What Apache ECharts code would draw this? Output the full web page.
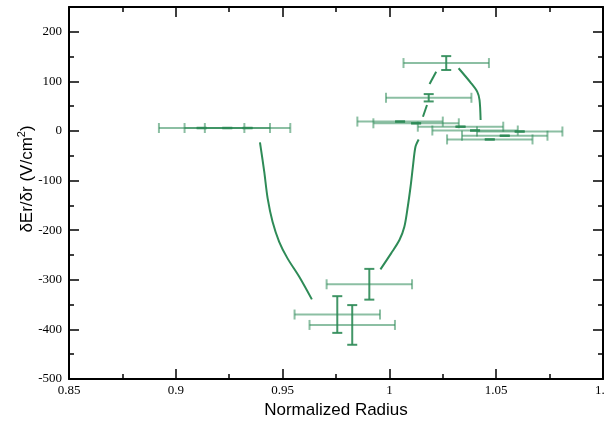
<!DOCTYPE html>
<html>
<head>
<meta charset="utf-8">
<script src="https://cdn.jsdelivr.net/npm/echarts@6/dist/echarts.min.js"></script>
<style>
  html, body { margin: 0; padding: 0; background: #fff; }
  #chart { width: 604px; height: 423px; }
</style>
</head>
<body>
<div id="chart"></div>
<script>
// Measured points with error bars (normalized radius, field gradient)
const pointR    = [0.9121, 0.9241, 0.9336, 0.9906, 0.9756, 0.9826, 1.0050, 1.0125, 1.0184, 1.0266, 1.0333, 1.0401, 1.0470, 1.0540, 1.0610];
const pointDE   = [6, 6, 6, -309, -370, -391, 19, 15.5, 67, 137, 8.7, 1, -17, -9.5, -1];
const pointRErr = [0.02, 0.02, 0.02, 0.02, 0.02, 0.02, 0.02, 0.02, 0.02, 0.02, 0.02, 0.02, 0.02, 0.02, 0.02];
const pointDEErr = [0.5, 0.5, 0.5, 31, 37, 40, 0.5, 0.5, 7.4, 14, 0.5, 0.5, 0.5, 0.5, 0.5];

// Model curves
const leftCurve = [
  [0.9394, -22.8], [0.9414, -82.1], [0.9430, -135.8], [0.9453, -183],
  [0.9484, -223.3], [0.9523, -256.8], [0.9578, -294], [0.9637, -339.5]
];
const rightCurveSolid = [
  [0.9958, -279], [1.0008, -246.7], [1.0047, -219.9], [1.0070, -193.1],
  [1.0086, -152.7], [1.0099, -112.4], [1.0110, -72], [1.0122, -31.7], [1.0137, -17]
];
const rightCurvePiece1 = [[1.0157, 28.8], [1.0176, 52.5]];
const rightCurvePiece2 = [[1.0188, 94.8], [1.0219, 119.6]];
const outerCurve = [[1.0324, 126.5], [1.0383, 96.2], [1.0411, 79.3], [1.0422, 62.5], [1.0427, 22.2]];

// Axis settings
const xMin = 0.85, xMax = 1.1, xStep = 0.05;
const yMin = -500, yMax = 250, yStep = 100;

const GREEN = '#2e8b57';
const serif = 'Liberation Serif';
const sans = 'Liberation Sans';

const errData = pointR.map((r, i) => [r, pointDE[i], pointRErr[i], pointDEErr[i]]);

function renderErrorBar(params, api) {
  const x = api.value(0), y = api.value(1), ex = api.value(2), ey = api.value(3);
  const l = api.coord([x - ex, y]);
  const r = api.coord([x + ex, y]);
  const t = api.coord([x, y + ey]);
  const b = api.coord([x, y - ey]);
  const capH = 5, capV = 5;
  const hStyle = { stroke: 'rgba(46,139,87,0.55)', lineWidth: 2 };
  const vStyle = { stroke: 'rgba(46,139,87,0.9)', lineWidth: 2 };
  const line = (x1, y1, x2, y2, style) => ({ type: 'line', shape: { x1, y1, x2, y2 }, style });
  return {
    type: 'group',
    children: [
      line(l[0], l[1], r[0], r[1], hStyle),
      line(l[0], l[1] - capH, l[0], l[1] + capH, hStyle),
      line(r[0], r[1] - capH, r[0], r[1] + capH, hStyle),
      line(t[0], t[1], b[0], b[1], vStyle),
      line(t[0] - capV, t[1], t[0] + capV, t[1], vStyle),
      line(b[0] - capV, b[1], b[0] + capV, b[1], vStyle)
    ]
  };
}

function curve(data) {
  return {
    type: 'line', data, xAxisIndex: 0, yAxisIndex: 0,
    showSymbol: false, smooth: 0.3, silent: true,
    lineStyle: { color: GREEN, width: 2 }, itemStyle: { color: GREEN },
    z: 3
  };
}

const axisLineStyle = { show: true, onZero: false, lineStyle: { color: '#000', width: 2 } };
const majorTick = { show: true, inside: true, length: 10, lineStyle: { color: '#000', width: 1.5 } };
const minorTick = { show: true, splitNumber: 2, length: 5, lineStyle: { color: '#000', width: 1.5 } };

const chart = echarts.init(document.getElementById('chart'), null, { renderer: 'canvas' });
chart.setOption({
  animation: false,
  backgroundColor: '#fff',
  grid: { left: 69, right: 1, top: 7, bottom: 44, containLabel: false, outerBoundsMode: 'none' },
  xAxis: [
    {
      type: 'value', min: xMin, max: xMax, interval: xStep, position: 'bottom',
      axisLine: axisLineStyle, axisTick: majorTick, minorTick: minorTick,
      splitLine: { show: false },
      axisLabel: {
        color: '#000', fontFamily: serif, fontSize: 13, margin: 5,
        formatter: v => String(Math.round(v * 100) / 100)
      }
    },
    {
      type: 'value', min: xMin, max: xMax, interval: xStep, position: 'top',
      axisLine: axisLineStyle, axisTick: majorTick, minorTick: minorTick,
      splitLine: { show: false }, axisLabel: { show: false }
    }
  ],
  yAxis: [
    {
      type: 'value', min: yMin, max: yMax, interval: yStep, position: 'left',
      axisLine: axisLineStyle, axisTick: majorTick, minorTick: minorTick,
      splitLine: { show: false },
      axisLabel: { color: '#000', fontFamily: serif, fontSize: 13, margin: 7, showMaxLabel: false }
    },
    {
      type: 'value', min: yMin, max: yMax, interval: yStep, position: 'right',
      axisLine: axisLineStyle, axisTick: majorTick, minorTick: minorTick,
      splitLine: { show: false }, axisLabel: { show: false }
    }
  ],
  graphic: [
    {
      type: 'text', x: 336, y: 410,
      style: {
        text: 'Normalized Radius', font: '17px "Liberation Sans"', fill: '#000',
        align: 'center', verticalAlign: 'middle'
      }
    },
    {
      type: 'text', x: 26, y: 179, rotation: Math.PI / 2,
      style: {
        text: '{a|δEr/δr (V/cm}{b|2}{a|)}',
        align: 'center', verticalAlign: 'middle',
        rich: {
          a: { fontFamily: sans, fontSize: 17, fill: '#000', lineHeight: 20, verticalAlign: 'bottom' },
          b: { fontFamily: sans, fontSize: 11, fill: '#000', lineHeight: 20, verticalAlign: 'top' }
        }
      }
    }
  ],
  series: [
    {
      type: 'custom', renderItem: renderErrorBar, data: errData,
      xAxisIndex: 0, yAxisIndex: 0, encode: { x: 0, y: 1 }, z: 2, silent: true
    },
    curve(leftCurve),
    curve(rightCurveSolid),
    curve(rightCurvePiece1),
    curve(rightCurvePiece2),
    curve(outerCurve)
  ]
});
</script>
</body>
</html>
